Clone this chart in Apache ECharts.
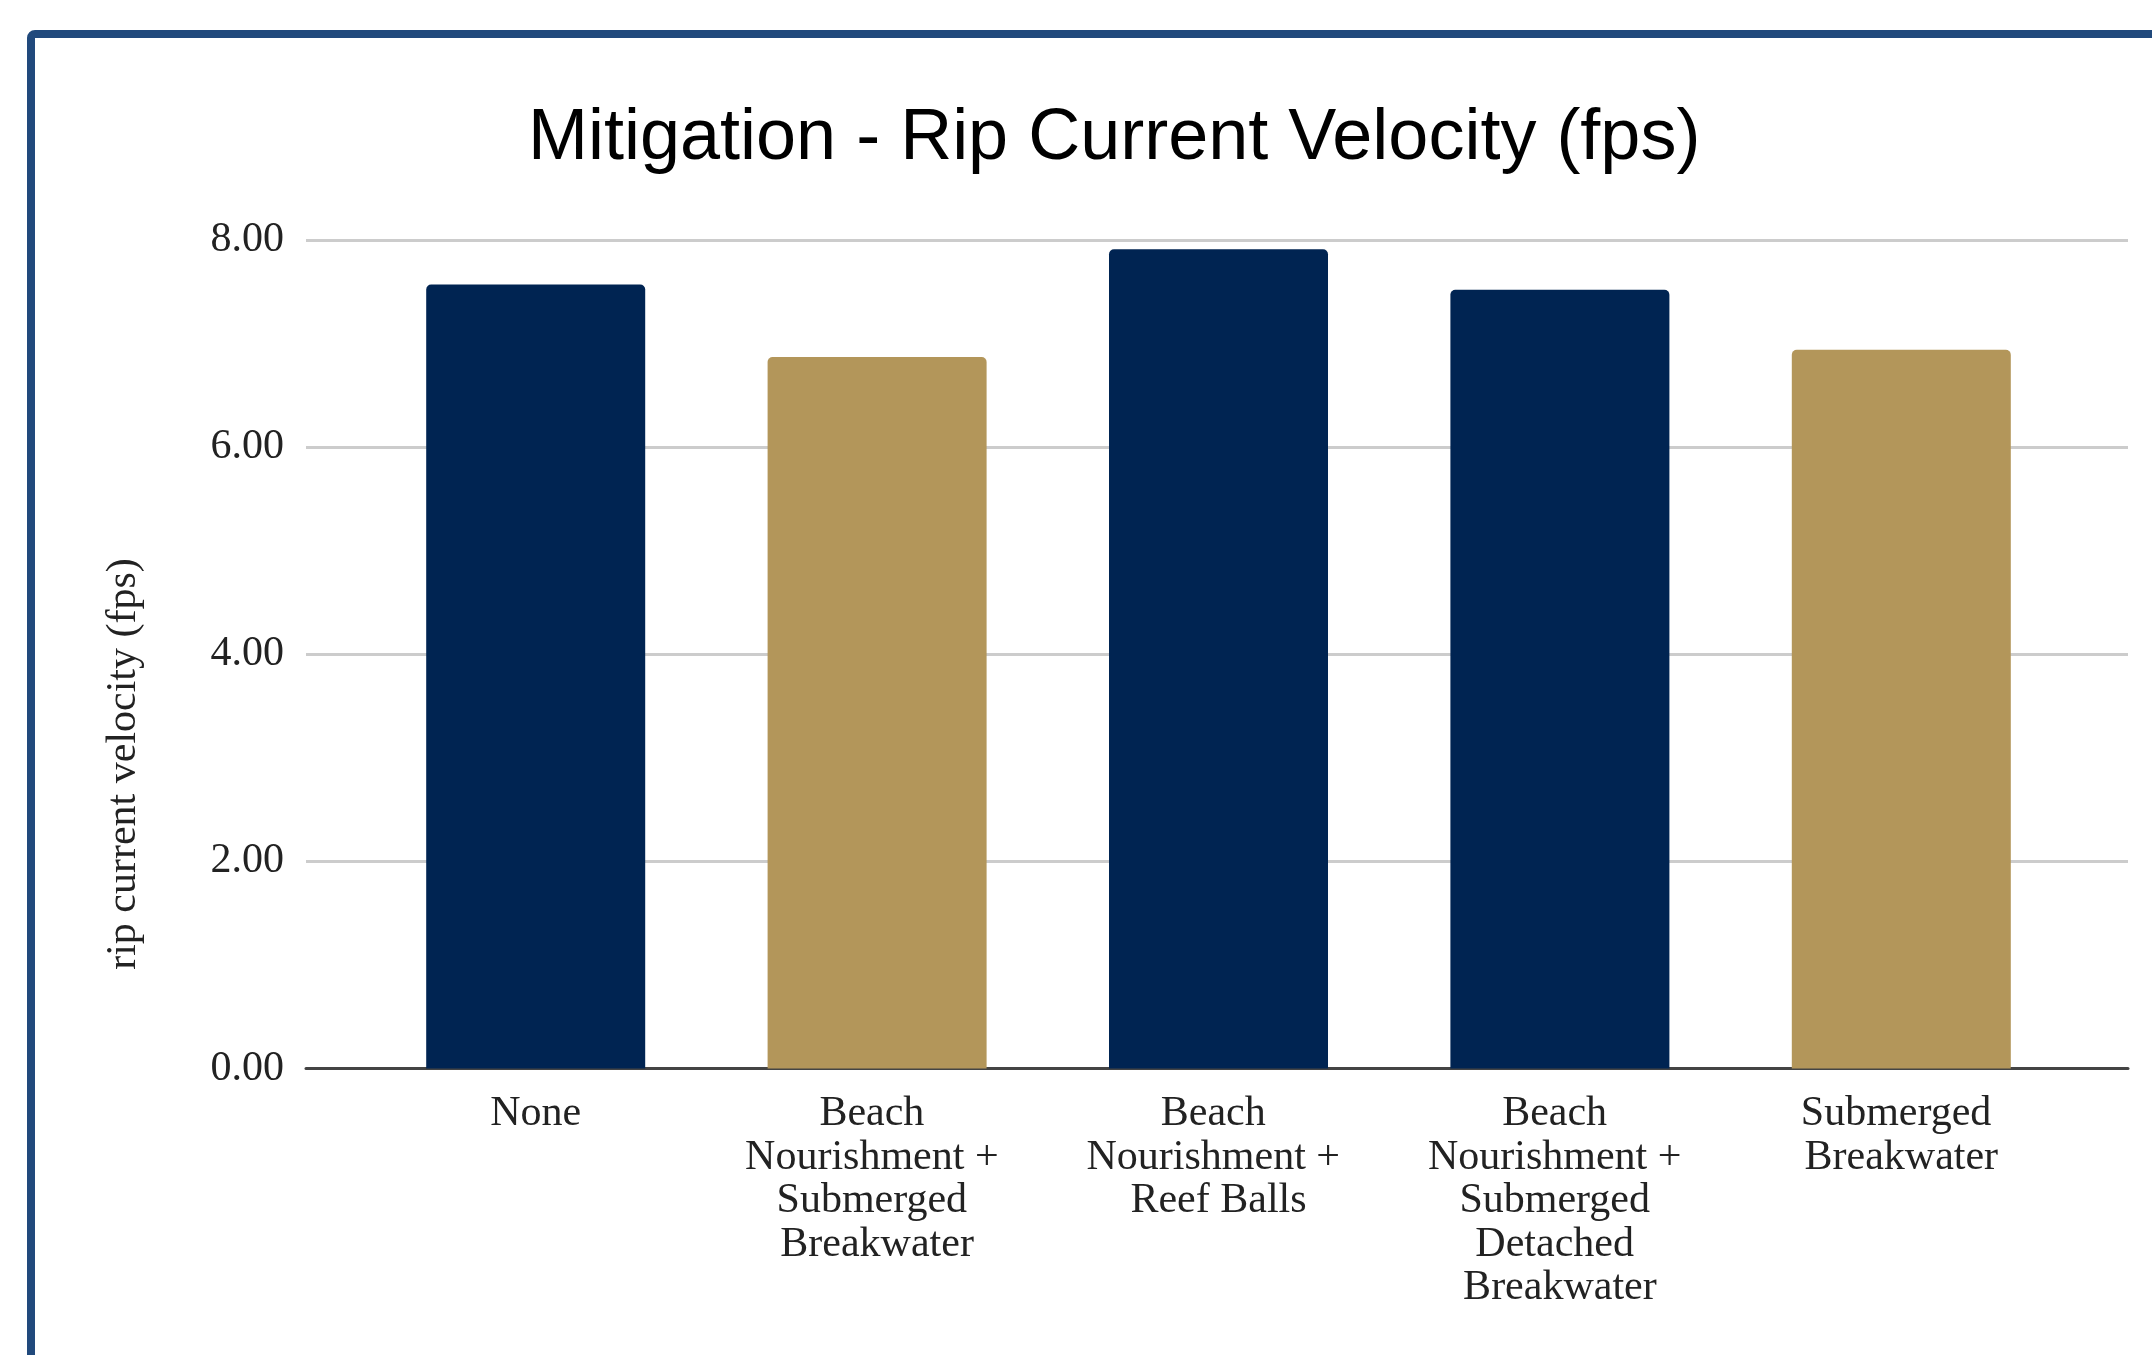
<!DOCTYPE html>
<html>
<head>
<meta charset="utf-8">
<title>Mitigation - Rip Current Velocity (fps)</title>
<script src="https://cdn.jsdelivr.net/npm/echarts@6/dist/echarts.min.js"></script>
<style>
  html, body { margin: 0; padding: 0; background: #ffffff; }
  #chart { width: 2152px; height: 1355px; }
</style>
</head>
<body>
<div id="chart"></div>
<script>
// Mitigation scenarios and the simulated rip current velocity for each (ft/s)
const categories = [
  'None',
  'Beach Nourishment + Submerged Breakwater',
  'Beach Nourishment + Reef Balls',
  'Beach Nourishment + Submerged Detached Breakwater',
  'Submerged Breakwater'
];
const velocities = [7.57, 6.87, 7.91, 7.52, 6.94];
const yTicks = [0, 2, 4, 6, 8];

// Style constants
const NAVY = '#002452';
const GOLD = '#B3965A';
const barPalette = [NAVY, GOLD, NAVY, NAVY, GOLD];
const SERIF = "'Liberation Serif', 'Times New Roman', serif";
const SANS = "'Liberation Sans', Arial, sans-serif";

const PLOT_TOP = 240;
const PLOT_HEIGHT = 828.5;

const chart = echarts.init(document.getElementById('chart'), null, { renderer: 'canvas' });

chart.setOption({
  animation: false,
  backgroundColor: '#ffffff',
  title: {
    text: 'Mitigation - Rip Current Velocity (fps)',
    left: 528,
    top: 103,
    padding: 0,
    textStyle: {
      fontFamily: SANS,
      fontSize: 72,
      fontWeight: 'normal',
      color: '#000000',
      lineHeight: 72
    }
  },
  grid: [
    // frame grid: gridlines, value labels and baseline across the full width
    { left: 306, right: 24, top: PLOT_TOP, height: PLOT_HEIGHT, containLabel: false },
    // bar grid: category bands inset from the gridline ends
    { left: 365, right: 80, top: PLOT_TOP, height: PLOT_HEIGHT, containLabel: false }
  ],
  xAxis: [
    {
      gridIndex: 0,
      type: 'value',
      min: 0,
      max: 1,
      axisLine: { show: true, onZero: false, lineStyle: { color: '#444444', width: 3 } },
      axisTick: { show: false },
      axisLabel: { show: false },
      splitLine: { show: false }
    },
    {
      gridIndex: 1,
      type: 'category',
      data: categories,
      axisLine: { show: false },
      axisTick: { show: false },
      axisLabel: {
        interval: 0,
        margin: 24,
        color: '#222222',
        fontFamily: SERIF,
        fontSize: 42,
        lineHeight: 43.5,
        width: 285,
        overflow: 'break',
        align: 'center'
      }
    }
  ],
  yAxis: [
    {
      gridIndex: 0,
      type: 'value',
      min: yTicks[0],
      max: yTicks[yTicks.length - 1],
      interval: yTicks[1] - yTicks[0],
      axisLine: { show: false },
      axisTick: { show: false },
      axisLabel: {
        margin: 22,
        color: '#222222',
        fontFamily: SERIF,
        fontSize: 42,
        formatter: v => v.toFixed(2)
      },
      splitLine: { show: true, lineStyle: { color: '#cccccc', width: 3 } }
    },
    {
      gridIndex: 1,
      type: 'value',
      min: yTicks[0],
      max: yTicks[yTicks.length - 1],
      show: false,
      splitLine: { show: false }
    }
  ],
  series: [
    {
      type: 'bar',
      xAxisIndex: 1,
      yAxisIndex: 1,
      barWidth: 219,
      z: 3,
      data: velocities.map((v, i) => ({
        value: v,
        itemStyle: { color: barPalette[i], borderRadius: [5, 5, 0, 0] }
      }))
    }
  ],
  graphic: [
    {
      type: 'text',
      x: 124,
      y: 764,
      rotation: Math.PI / 2,
      style: {
        text: 'rip current velocity (fps)',
        fontFamily: SERIF,
        fontSize: 42,
        fill: '#222222',
        align: 'center',
        verticalAlign: 'middle'
      }
    },
    {
      // dark blue frame around the chart
      type: 'rect',
      shape: { x: 31, y: 34, width: 2400, height: 1600, r: 4 },
      style: { fill: 'none', stroke: '#21497C', lineWidth: 8 },
      silent: true
    }
  ]
});
</script>
</body>
</html>
